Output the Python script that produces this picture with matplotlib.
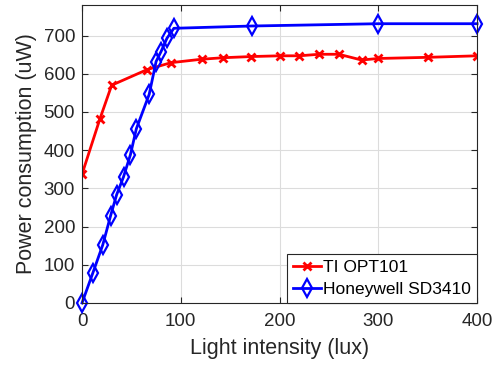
import matplotlib
matplotlib.use("Agg")
import matplotlib.pyplot as plt

plt.rcParams.update({"font.family": ["Liberation Sans", "DejaVu Sans"], "font.size": 11})

ti_x = [0, 18, 30, 66, 90, 121, 143, 171, 200, 220, 240, 260, 283, 300, 350, 400]
ti_y = [337, 481, 570, 611, 629, 638, 642, 645, 647, 647, 651, 651, 636, 640, 643, 647]

hw_x = [0, 11, 21, 29, 35, 42, 49, 55, 68, 75, 80, 86, 93, 172, 300, 400]
hw_y = [0, 79, 152, 229, 283, 330, 388, 456, 546, 632, 658, 693, 719, 725, 731, 731]

fig = plt.figure(figsize=(4.98, 3.67), dpi=100)
ax = fig.add_axes([0.1647, 0.1744, 0.7933, 0.812])

ax.plot(ti_x, ti_y, color="#ff0000", lw=2, marker="x", ms=6, mew=2, label="TI OPT101")
ax.plot(hw_x, hw_y, color="#0000ff", lw=2, marker="d", ms=9, mew=1.6,
        mfc="none", label="Honeywell SD3410", clip_on=False)

ax.set_xlim(0, 400)
ax.set_ylim(0, 780)
ax.set_xticks([0, 100, 200, 300, 400])
ax.set_yticks(range(0, 701, 100))
ax.grid(True, color="#dcdcdc", lw=0.8)
ax.set_axisbelow(True)
ax.tick_params(direction="in", top=True, right=True, length=4, labelsize=13.5,
               color="#262626", labelcolor="#262626")
ax.tick_params(axis="x", pad=7)
ax.tick_params(axis="y", pad=5)
for s in ax.spines.values():
    s.set_color("#262626")
    s.set_linewidth(0.8)

ax.set_xlabel("Light intensity (lux)", fontsize=15.5, color="#262626", labelpad=6)
ax.set_ylabel("Power consumption (uW)", fontsize=15.5, color="#262626", labelpad=5)

leg = ax.legend(loc="lower right", fontsize=12.5, fancybox=False, framealpha=1,
                edgecolor="#262626", borderaxespad=0, handlelength=1.6,
                handletextpad=0.15, borderpad=0.35, labelspacing=0.4)
leg.get_frame().set_linewidth(0.8)

fig.savefig("out.png", dpi=100)
